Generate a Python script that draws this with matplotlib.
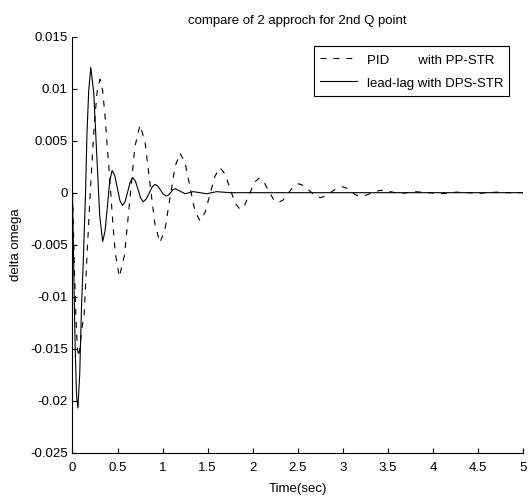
import matplotlib
matplotlib.use("Agg")
import matplotlib.pyplot as plt

plt.rcParams['font.family'] = ['Liberation Sans', 'DejaVu Sans']
plt.rcParams['lines.scale_dashes'] = False

# ---- data ----
t_pid = [0.0, 0.02, 0.04, 0.055, 0.07, 0.105, 0.129, 0.16, 0.188, 0.22, 0.246, 0.275, 0.305,
         0.335, 0.36, 0.385, 0.41, 0.45, 0.475, 0.52,
         0.577, 0.635, 0.692, 0.749, 0.805, 0.86, 0.916, 0.971,
         1.027, 1.082, 1.138, 1.193, 1.249, 1.304, 1.36, 1.415,
         1.471, 1.526, 1.582, 1.637, 1.693, 1.749, 1.804, 1.86,
         1.913, 1.965, 2.018, 2.07, 2.123, 2.175, 2.228, 2.28,
         2.338, 2.395, 2.453, 2.51, 2.57, 2.63, 2.69, 2.75,
         2.81, 2.87, 2.93, 2.99, 3.04, 3.09, 3.14, 3.19,
         3.255, 3.32, 3.385, 3.45, 3.54, 3.63, 3.71, 3.8, 3.95, 4.1,
         4.18, 4.26, 4.39, 4.52, 4.61, 4.71, 4.85, 5.0]
y_pid = [0.0, -0.007, -0.0125, -0.015, -0.0158, -0.013, -0.0118, -0.0062, -0.0015, 0.0035, 0.0070, 0.0098, 0.0109,
         0.0098, 0.0075, 0.0045, 0.0018, -0.0032, -0.0058, -0.0081,
         -0.0060, -0.0008, 0.0044, 0.0065, 0.0049, 0.00085, -0.0031, -0.0048,
         -0.0035, -0.0005, 0.0025, 0.0038, 0.0029, 0.00055, -0.0018, -0.0027,
         -0.0019, -0.00015, 0.0016, 0.0024, 0.0018, 0.0004, -0.001, -0.0016,
         -0.00116, -0.0001, 0.00096, 0.0014, 0.00105, 0.00022, -0.0006, -0.00096,
         -0.0007, -0.00005, 0.0006, 0.00086, 0.00066, 0.00019, -0.00028, -0.00048,
         -0.00032, 0.00005, 0.00042, 0.00058, 0.00045, 0.00012, -0.0002, -0.00033,
         -0.00024, -0.00004, 0.00017, 0.00025, 0.00008, -0.0001, 0.0, 0.0001, 0.0, -0.0001,
         -0.00002, 0.00005, 0.0, -0.00005, 0.0, 0.00005, 0.0, 0.0]

t_ll = [0.0, 0.015, 0.03, 0.045, 0.06, 0.08, 0.1, 0.12, 0.145, 0.16, 0.18, 0.203,
        0.236, 0.269, 0.302, 0.335, 0.361, 0.388, 0.414, 0.44,
        0.469, 0.498, 0.526, 0.555, 0.584, 0.613, 0.641, 0.67,
        0.699, 0.728, 0.757, 0.786, 0.819, 0.851, 0.884, 0.916,
        0.947, 0.978, 1.009, 1.04, 1.065, 1.09, 1.115, 1.14,
        1.195, 1.25, 1.34, 1.49, 1.6, 1.75, 2.0, 5.0]
y_ll = [0.0, -0.008, -0.015, -0.0195, -0.0207, -0.0175, -0.011, -0.0065, 0.0, 0.0055, 0.0098, 0.01205,
        0.0096, 0.0037, -0.0022, -0.0047, -0.0037, -0.00128, 0.00114, 0.00214,
        0.00165, 0.00045, -0.00075, -0.00124, -0.00085, 0.0001, 0.00105, 0.00144,
        0.0011, 0.00029, -0.00053, -0.00087, -0.0006, -0.00004, 0.00055, 0.0008,
        0.00064, 0.00024, -0.00016, -0.00032, -0.00022, 0.00003, 0.00028, 0.00038,
        0.00014, -0.0001, 0.0001, -0.0001, 0.0001, 0.0, 0.0, 0.0]

labels = ['PID        with PP-STR', 'lead-lag with DPS-STR']
xticks = [0, 0.5, 1, 1.5, 2, 2.5, 3, 3.5, 4, 4.5, 5]
xticklabels = ['0', '0.5', '1', '1.5', '2', '2.5', '3', '3.5', '4', '4.5', '5']
yticks = [-0.025, -0.02, -0.015, -0.01, -0.005, 0, 0.005, 0.01, 0.015]
yticklabels = ['-0.025', '-0.02', '-0.015', '-0.01', '-0.005', '0', '0.005', '0.01', '0.015']
title = 'compare of 2 approch for 2nd Q point'
xlabel = 'Time(sec)'
ylabel = 'delta omega'

# ---- figure ----
fs = 9.5
fig = plt.figure(figsize=(5.28, 4.97), dpi=100)
ax = fig.add_axes([0.1373, 0.0891, 0.8532, 0.8371])

ax.plot(t_pid, y_pid, color='black', lw=0.8, linestyle=(0, (4.3, 5.0)), label=labels[0])
ax.plot(t_ll, y_ll, color='black', lw=0.8, linestyle='-', label=labels[1])

ax.set_xlim(0, 5)
ax.set_ylim(-0.025, 0.015)
ax.set_xticks(xticks)
ax.set_xticklabels(xticklabels, fontsize=fs)
ax.set_yticks(yticks)
ax.set_yticklabels(yticklabels, fontsize=fs)
ax.tick_params(direction='in', length=3.6, width=0.8)
ax.tick_params(axis='x', pad=6.5)
ax.tick_params(axis='y', pad=3.5)

for side in ['top', 'right']:
    ax.spines[side].set_visible(False)
for side in ['left', 'bottom']:
    ax.spines[side].set_linewidth(0.8)
    ax.spines[side].set_color('black')

ax.set_title(title, fontsize=fs, pad=9)
ax.set_xlabel(xlabel, fontsize=fs, labelpad=6.5)
ax.set_ylabel(ylabel, fontsize=fs, labelpad=6)

leg = ax.legend(loc='upper right', bbox_to_anchor=(0.969, 0.978), fontsize=fs,
                frameon=True, fancybox=False, edgecolor='black', framealpha=1,
                handlelength=2.8, handleheight=1.4, handletextpad=0.75,
                borderpad=0.45, labelspacing=0.6, borderaxespad=0)
leg.get_frame().set_linewidth(0.8)

fig.savefig('out.png', dpi=100)
